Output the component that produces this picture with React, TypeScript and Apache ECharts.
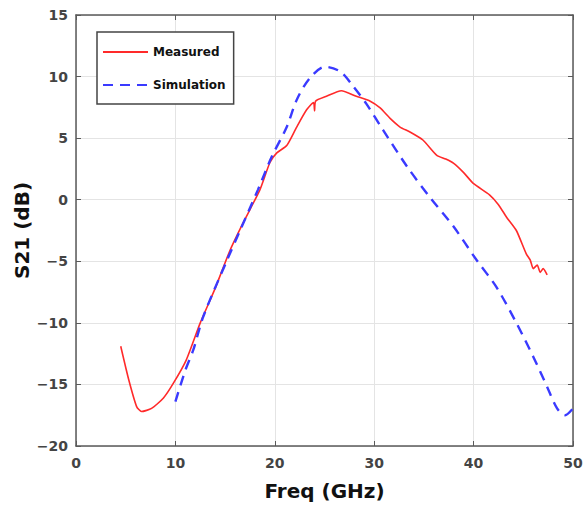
import React, { useEffect, useRef } from "react";
import * as echarts from "echarts";

const xTicks = [0, 10, 20, 30, 40, 50];
const yTicks = [-20, -15, -10, -5, 0, 5, 10, 15];

const measuredFreq = [4.5, 5.3, 6.1, 6.6, 7.6, 8.8, 9.8, 11.1, 12.5, 14.0, 15.5, 16.8, 18.5, 19.5, 20.2, 21.2, 22.2, 23.2, 23.9, 24.0, 24.1, 25.2, 26.7, 28.2, 29.6, 30.6, 31.6, 32.6, 33.6, 34.9, 36.3, 37.2, 38.0, 39.0, 40.0, 41.6, 42.5, 43.3, 44.3, 45.3, 45.7, 46.0, 46.4, 46.7, 47.0, 47.4];
const measuredS21 = [-11.9, -14.6, -16.8, -17.2, -16.95, -16.1, -14.9, -13.0, -10.0, -7.2, -4.1, -1.9, 0.8, 3.0, 3.8, 4.4, 5.9, 7.3, 7.9, 7.2, 8.0, 8.4, 8.85, 8.4, 8.0, 7.45, 6.6, 5.9, 5.5, 4.85, 3.6, 3.3, 2.95, 2.2, 1.3, 0.4, -0.4, -1.4, -2.5, -4.4, -4.9, -5.6, -5.3, -5.9, -5.6, -6.1];

const simFreq = [10.0, 11.0, 11.8, 12.8, 15.2, 16.5, 18.3, 19.7, 21.2, 22.2, 23.5, 25.05, 26.6, 27.9, 29.2, 30.9, 33.3, 35.6, 38.0, 40.3, 42.3, 44.3, 46.0, 47.4, 48.4, 49.2, 50.0];
const simS21 = [-16.4, -13.85, -12.2, -9.5, -4.9, -2.5, 0.8, 3.5, 5.9, 8.1, 9.85, 10.8, 10.4, 9.2, 7.8, 5.65, 2.7, 0.2, -2.2, -4.9, -7.1, -10.0, -12.75, -15.2, -16.95, -17.5, -16.95];

const FONT = "DejaVu Sans";

export default function App() {
  const ref = useRef<HTMLDivElement>(null);
  useEffect(() => {
    if (!ref.current) return;
    const chart = echarts.init(ref.current, null, { renderer: "svg" });
    const axisLine = { show: true, onZero: false, lineStyle: { color: "#5a5a5a", width: 1.5 } };
    const tick = { show: true, inside: true, length: 5, lineStyle: { color: "#5a5a5a", width: 1 } };
    chart.setOption({
      animation: false,
      backgroundColor: "#ffffff",
      grid: { left: 76, top: 15, right: 12, bottom: 60, containLabel: false, outerBoundsMode: "none" },
      legend: {
        orient: "vertical",
        left: 97,
        top: 32,
        padding: [14, 8, 13, 5],
        itemGap: 21,
        itemWidth: 45,
        itemHeight: 14,
        borderColor: "#444",
        borderWidth: 1.5,
        backgroundColor: "#fff",
        itemStyle: { opacity: 0 },
        textStyle: { fontFamily: FONT, fontSize: 12, fontWeight: "bold", color: "#111" },
        data: ["Measured", "Simulation"],
      },
      xAxis: [
        {
          type: "value",
          min: 0,
          max: 50,
          interval: 10,
          name: "Freq (GHz)",
          nameLocation: "middle",
          nameGap: 35,
          nameTextStyle: { fontFamily: FONT, fontSize: 20, fontWeight: "bold", color: "#111" },
          axisLine,
          axisTick: tick,
          axisLabel: {
            fontFamily: FONT,
            fontSize: 14,
            fontWeight: "bold",
            color: "#444",
            margin: 10,
            formatter: (v: number) => (xTicks.includes(v) ? String(v) : ""),
          },
          splitLine: { show: true, lineStyle: { color: "#e4e4e4", width: 1 } },
        },
        {
          type: "value",
          position: "top",
          min: 0,
          max: 50,
          interval: 10,
          axisLine,
          axisTick: tick,
          axisLabel: { show: false },
          splitLine: { show: false },
        },
      ],
      yAxis: [
        {
          type: "value",
          min: -20,
          max: 15,
          interval: 5,
          name: "S21 (dB)",
          nameLocation: "middle",
          nameGap: 44,
          nameMoveOverlap: false,
          nameTextStyle: { fontFamily: FONT, fontSize: 20, fontWeight: "bold", color: "#111" },
          axisLine,
          axisTick: tick,
          axisLabel: {
            fontFamily: FONT,
            fontSize: 14,
            fontWeight: "bold",
            color: "#444",
            margin: 8,
            formatter: (v: number) => (yTicks.includes(v) ? String(v).replace("-", "\u2212") : ""),
          },
          splitLine: { show: true, lineStyle: { color: "#e4e4e4", width: 1 } },
        },
        {
          type: "value",
          position: "right",
          min: -20,
          max: 15,
          interval: 5,
          axisLine,
          axisTick: tick,
          axisLabel: { show: false },
          splitLine: { show: false },
        },
      ],
      series: [
        {
          name: "Measured",
          type: "line",
          showSymbol: false,
          symbol: "none",
          smooth: 0.2,
          data: measuredFreq.map((f, i) => [f, measuredS21[i]]),
          lineStyle: { color: "#ff2a2a", width: 1.6 },
          itemStyle: { color: "#ff2a2a" },
        },
        {
          name: "Simulation",
          type: "line",
          showSymbol: false,
          symbol: "none",
          smooth: 0.3,
          data: simFreq.map((f, i) => [f, simS21[i]]),
          lineStyle: { color: "#3a3aff", width: 2.4, type: [10, 7] },
          itemStyle: { color: "#3a3aff" },
        },
      ],
    });
    return () => chart.dispose();
  }, []);
  return <div ref={ref} style={{ width: 585, height: 506, position: "absolute", left: 0, top: 0 }} />;
}
